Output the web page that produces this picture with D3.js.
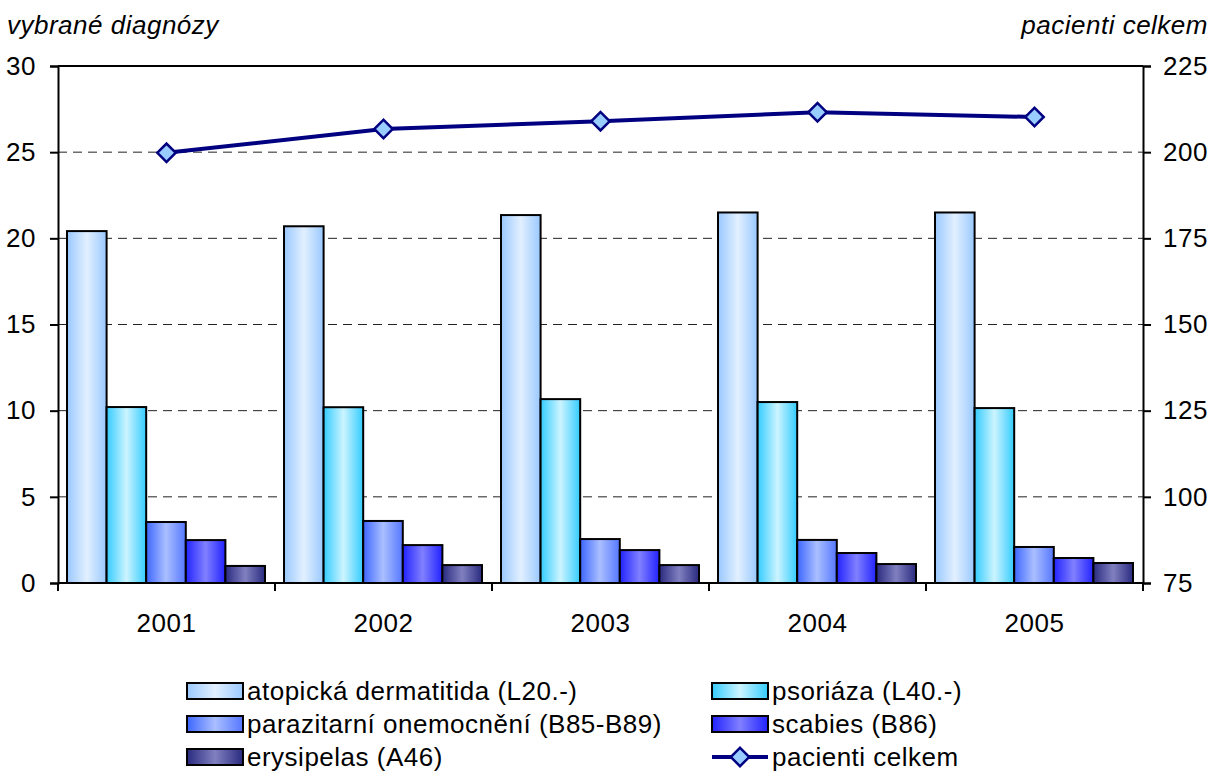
<!DOCTYPE html>
<html><head><meta charset="utf-8">
<script src="https://cdn.jsdelivr.net/npm/d3@7"></script>
<style>body{margin:0;background:#fff}svg{display:block;font-family:"Liberation Sans",Arial,sans-serif}</style>
</head><body><svg id="c" width="1214" height="772"></svg>
<script>
const years = ["2001","2002","2003","2004","2005"];
const seriesNames = ["atopická dermatitida (L20.-)","psoriáza (L40.-)","parazitarní onemocnění (B85-B89)","scabies (B86)","erysipelas (A46)"];
const atopicka = [20.42, 20.7, 21.35, 21.5, 21.5];
const psoriaza = [10.21, 10.2, 10.67, 10.5, 10.15];
const parazitarni = [3.54, 3.6, 2.55, 2.5, 2.09];
const scabies = [2.49, 2.2, 1.91, 1.74, 1.45];
const erysipelas = [0.99, 1.04, 1.04, 1.1, 1.16];
const pacienti = [199.8, 206.7, 209, 211.6, 210.2];
const leftTicks = [0,5,10,15,20,25,30];
const rightTicks = [75,100,125,150,175,200,225];
const lineName = "pacienti celkem";

const barSeries = [atopicka, psoriaza, parazitarni, scabies, erysipelas];
const grads = [
  ["#99c8ff","#e2f0ff","#99c8ff"],
  ["#33ccff","#ccf4ff","#33ccff"],
  ["#3d66ff","#aabfff","#5577ff"],
  ["#2222ff","#8080ff","#2222ff"],
  ["#2a2a80","#8080c0","#2a2a80"]
];
const FS = 26, LS = "0.5px";

const svg = d3.select("#c");
const L=58, R=1143, T=66, B=583;
const x = d3.scaleBand().domain(years).range([L,R]).paddingInner(0).paddingOuter(0);
const yL = d3.scaleLinear().domain([0,30]).range([B,T]);
const yR = d3.scaleLinear().domain([75,225]).range([B,T]);
const inner = d3.scaleBand().domain(d3.range(5)).range([9, x.bandwidth()-10]);

const defs = svg.append("defs");
grads.forEach((g,i)=>{
  const lg = defs.append("linearGradient").attr("id","g"+i).attr("x1","0").attr("x2","1").attr("y1","0").attr("y2","0");
  lg.append("stop").attr("offset","0").attr("stop-color",g[0]);
  lg.append("stop").attr("offset","0.5").attr("stop-color",g[1]);
  lg.append("stop").attr("offset","1").attr("stop-color",g[2]);
});

// gridlines
svg.append("g").selectAll("line").data(leftTicks.filter(t=>t>0 && t<30)).join("line")
  .attr("x1",L).attr("x2",R).attr("y1",d=>yL(d)).attr("y2",d=>yL(d))
  .attr("stroke","#222").attr("stroke-width",1).attr("stroke-dasharray","9,6");
svg.append("line").attr("x1",L).attr("x2",R).attr("y1",T).attr("y2",T).attr("stroke","#000").attr("stroke-width",2);

// bars
barSeries.forEach((vals,si)=>{
  svg.append("g").selectAll("rect").data(vals).join("rect")
    .attr("x",(d,i)=>x(years[i])+inner(si))
    .attr("width",inner.bandwidth())
    .attr("y",d=>yL(d)).attr("height",d=>B-yL(d))
    .attr("fill","url(#g"+si+")").attr("stroke","#000").attr("stroke-width",2);
});

// axes
const axL = svg.append("g").attr("transform",`translate(${L},0)`)
  .call(d3.axisLeft(yL).tickValues(leftTicks).tickSize(8).tickPadding(14));
const axR = svg.append("g").attr("transform",`translate(${R},0)`)
  .call(d3.axisRight(yR).tickValues(rightTicks).tickSize(8).tickPadding(12));
const axB = svg.append("g").attr("transform",`translate(0,${B})`)
  .call(d3.axisBottom(x).tickSize(0).tickPadding(31));
svg.append("g").selectAll("line").data(d3.range(6)).join("line")
  .attr("x1",i=>L+i*x.bandwidth()).attr("x2",i=>L+i*x.bandwidth())
  .attr("y1",B).attr("y2",B+8).attr("stroke","#000").attr("stroke-width",2);
[axL,axR,axB].forEach(a=>{
  a.attr("font-size",FS).attr("font-family","Liberation Sans, Arial, sans-serif");
  a.select(".domain").attr("stroke","#000").attr("stroke-width",2);
  a.selectAll(".tick line").attr("stroke","#000").attr("stroke-width",2);
  a.selectAll("text").attr("fill","#000").style("letter-spacing",LS);
});
axB.select(".domain").attr("d",`M${L},0H${R}`);

// line
const lineGen = d3.line().x((d,i)=>x(years[i])+x.bandwidth()/2).y(d=>yR(d));
svg.append("path").datum(pacienti).attr("d",lineGen).attr("fill","none").attr("stroke","#000080").attr("stroke-width",4);
const sym = d3.symbol().type(d3.symbolSquare).size(170);
svg.append("g").selectAll("path").data(pacienti).join("path")
  .attr("d",sym).attr("transform",(d,i)=>`translate(${x(years[i])+x.bandwidth()/2},${yR(d)}) rotate(45)`)
  .attr("fill","#99ccff").attr("stroke","#000080").attr("stroke-width",2.5);

// titles
svg.append("text").attr("x",7).attr("y",34).attr("font-size",FS).attr("font-style","italic").style("letter-spacing",LS).text("vybrané diagnózy");
svg.append("text").attr("x",1208).attr("y",34).attr("text-anchor","end").attr("font-size",FS).attr("font-style","italic").style("letter-spacing",LS).text(lineName);

// legend
const legItems = [
  {t:seriesNames[0],k:"bar",i:0,x:187,y:691},
  {t:seriesNames[1],k:"bar",i:1,x:712,y:691},
  {t:seriesNames[2],k:"bar",i:2,x:187,y:724},
  {t:seriesNames[3],k:"bar",i:3,x:712,y:724},
  {t:seriesNames[4],k:"bar",i:4,x:187,y:757},
  {t:lineName,k:"line",x:712,y:757}
];
const lg = svg.append("g");
legItems.forEach(it=>{
  if(it.k==="bar"){
    lg.append("rect").attr("x",it.x).attr("y",it.y-8).attr("width",56).attr("height",16)
      .attr("fill","url(#g"+it.i+")").attr("stroke","#000").attr("stroke-width",2);
  } else {
    lg.append("line").attr("x1",it.x).attr("x2",it.x+56).attr("y1",it.y).attr("y2",it.y).attr("stroke","#000080").attr("stroke-width",4);
    lg.append("path").attr("d",sym).attr("transform",`translate(${it.x+28},${it.y}) rotate(45)`)
      .attr("fill","#99ccff").attr("stroke","#000080").attr("stroke-width",2.5);
  }
  lg.append("text").attr("x",it.x+60).attr("y",it.y+9).attr("font-size",FS).style("letter-spacing",LS).text(it.t);
});
</script></body></html>
